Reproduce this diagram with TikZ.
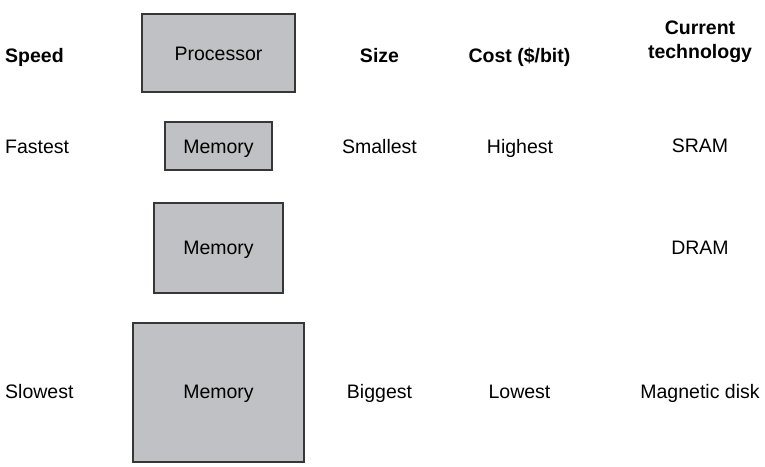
\documentclass[tikz,border=0pt]{standalone}
\usepackage{fontspec}
\setmainfont{Liberation Sans}
\definecolor{boxfill}{RGB}{192,193,196}
\definecolor{boxline}{RGB}{55,55,55}
\begin{document}
\begin{tikzpicture}[x=1pt,y=-1pt,
  lbl/.style={font=\fontsize{19.5}{23}\selectfont, inner sep=0pt, anchor=base},
  hdr/.style={font=\fontsize{19.5}{24}\selectfont\bfseries, inner sep=0pt, anchor=base},
  membox/.style={draw=boxline, fill=boxfill, line width=1.1pt}]
\useasboundingbox (0,0) rectangle (765,466);
% boxes
\draw[membox] (142,14) rectangle (295,92);
\draw[membox] (165,122) rectangle (272,170);
\draw[membox] (154,203) rectangle (283,293);
\draw[membox] (133,323) rectangle (304,462);
\node[lbl] (proc) at (218.5,60.5) {Processor};
\node[lbl] (m1) at (218.5,153) {Memory};
\node[lbl] (m2) at (218.5,254.5) {Memory};
\node[lbl] (m3) at (218.5,398) {Memory};
% headers
\node[hdr, anchor=base west] (speed) at (5,62) {Speed};
\node[hdr] (size) at (379.5,62) {Size};
\node[hdr] (cost) at (519.5,62) {Cost (\$/bit)};
\node[hdr, align=center, anchor=south] (tech) at (700,63) {Current\\technology};
% rows
\node[lbl, anchor=base west] (fast) at (5,153) {Fastest};
\node[lbl] (small) at (379.5,153) {Smallest};
\node[lbl] (high) at (520,153) {Highest};
\node[lbl] (sram) at (700,152) {SRAM};
\node[lbl] (dram) at (700,254) {DRAM};
\node[lbl, anchor=base west] (slow) at (5,398) {Slowest};
\node[lbl] (big) at (379.5,398) {Biggest};
\node[lbl] (low) at (519.5,398) {Lowest};
\node[lbl] (disk) at (700,398) {Magnetic disk};
\end{tikzpicture}
\end{document}
